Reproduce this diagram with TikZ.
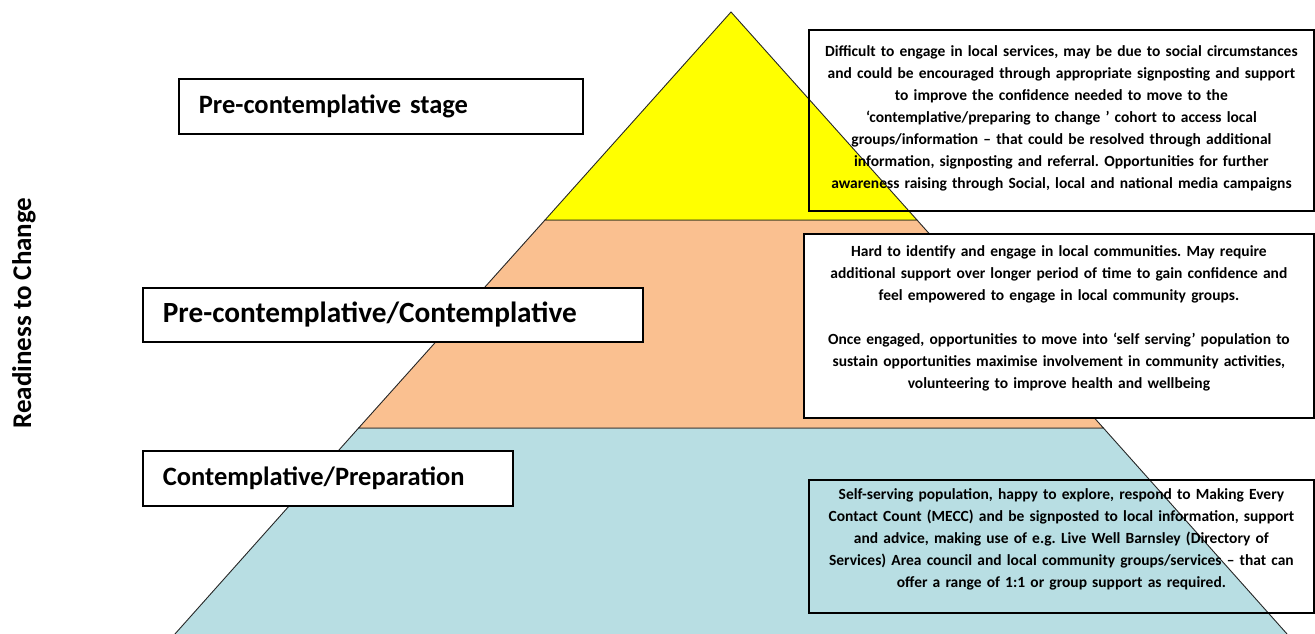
\documentclass[tikz,border=0pt]{standalone}
\usepackage{fontspec}
\setmainfont{Carlito}
\frenchspacing
\definecolor{pyryellow}{RGB}{255,255,0}
\definecolor{pyrorange}{RGB}{250,192,144}
\definecolor{pyrblue}{RGB}{184,222,227}

\begin{document}
\begin{tikzpicture}[
    x=1pt, y=-1pt,
    band/.style={draw=black!85, line width=0.9pt},
    stage/.style={draw, line width=1.8pt, fill=white, anchor=north west, inner xsep=20pt, align=left, font=\bfseries\fontsize{26.5}{30}\selectfont},
    infobox/.style={draw, line width=1.8pt, anchor=north west},
    info/.style={align=center, text width=494pt, font=\bfseries\fontsize{15.5}{22}\selectfont}
]
\useasboundingbox (0,0) rectangle (1315,633);

% the three bands of the pyramid, bottom up
\path[band, fill=pyrblue] (358.6,428) -- (1103.4,428) -- (1292.4,640) -- (169.6,640) -- cycle;
\path[band, fill=pyrorange] (545,220) -- (917,220) -- (1103.4,428) -- (358.6,428) -- cycle;
\path[band, fill=pyryellow] (731,12) -- (917,220) -- (545,220) -- cycle;

\node[rotate=90, font=\bfseries\fontsize{27}{30}\selectfont] (axis) at (24,313) {Readiness to Change};

% stage labels on the left
\node[stage, text width=364pt, minimum height=55pt] (pre) at (178,78) {Pre-contemplative stage};
\node[stage, text width=460pt, minimum height=54pt, font=\bfseries\fontsize{29.3}{32}\selectfont] (precon) at (142,287) {Pre-contemplative/Contemplative};
\node[stage, text width=330pt, minimum height=55pt] (conprep) at (142,450) {Contemplative/Preparation};

% descriptions on the right
\node[infobox, minimum width=505pt, minimum height=181pt] (prebox) at (808,29) {};
\node[info] (preinfo) at ([yshift=2pt]prebox.center) {Difficult to engage in local services, may be due to social circumstances\\
and could be encouraged through appropriate signposting and support\\
to improve the confidence needed to move to the\\
‘contemplative/preparing to change ’ cohort to access local\\
groups/information – that could be resolved through additional\\
information, signposting and referral. Opportunities for further\\
awareness raising through Social, local and national media campaigns};

\node[infobox, fill=white, minimum width=510pt, minimum height=184pt] (preconbox) at (803,233) {};
\node[info] (preconinfo) at ([yshift=8pt]preconbox.center) {Hard to identify and engage in local communities. May require\\
additional support over longer period of time to gain confidence and\\
feel empowered to engage in local community groups.\\[22pt]
Once engaged, opportunities to move into ‘self serving’ population to\\
sustain opportunities maximise involvement in community activities,\\
volunteering to improve health and wellbeing};

\node[infobox, minimum width=505pt, minimum height=133pt] (conprepbox) at (808,479) {};
\node[info] (conprepinfo) at ([yshift=7pt]conprepbox.center) {Self-serving population, happy to explore, respond to Making Every\\
Contact Count (MECC) and be signposted to local information, support\\
and advice, making use of e.g. Live Well Barnsley (Directory of\\
Services) Area council and local community groups/services – that can\\
offer a range of 1:1 or group support as required.};
\end{tikzpicture}
\end{document}
